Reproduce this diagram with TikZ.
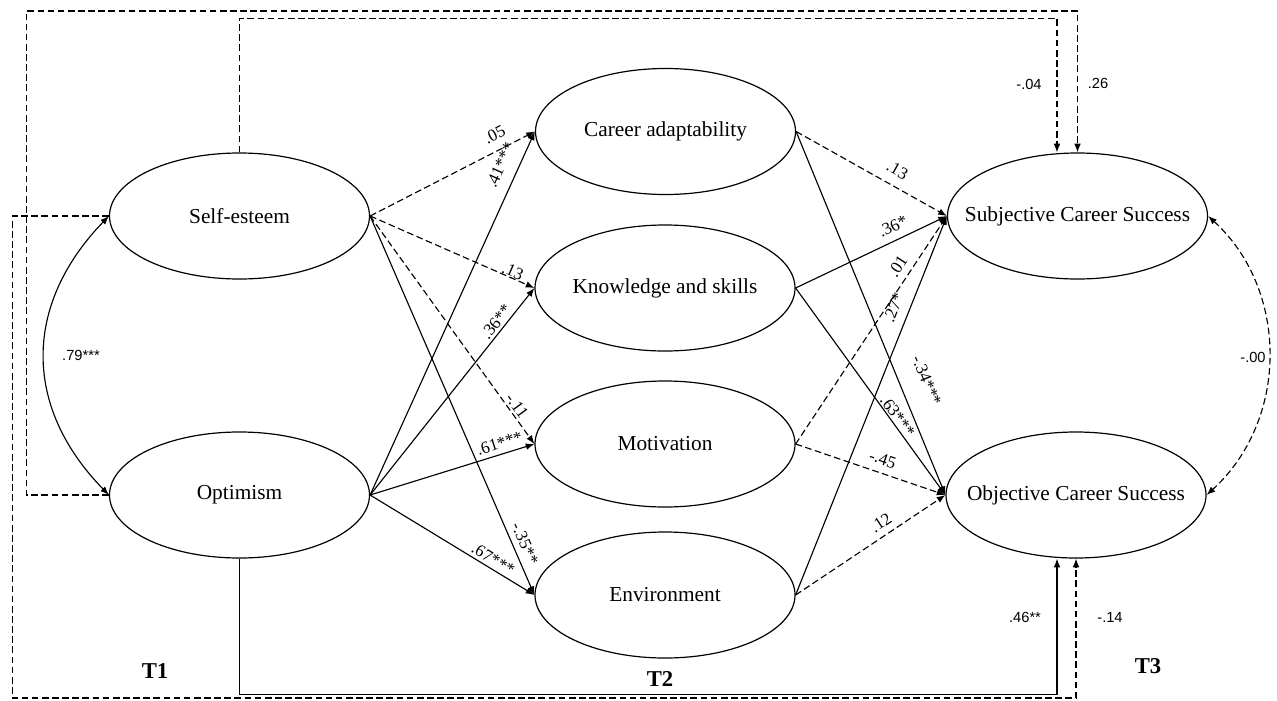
\documentclass[tikz,border=0pt]{standalone}
\usepackage{fontspec}
\setmainfont{Liberation Serif}
\newfontfamily\labsans{Liberation Sans}
\usetikzlibrary{shapes.geometric,arrows.meta}
\newcommand\ztxt[1]{\makebox[0pt]{#1}}
\begin{document}
\begin{tikzpicture}[x=0.75pt,y=-0.75pt,
  lat/.style={draw, ellipse, minimum width=195pt, minimum height=94.5pt, inner sep=0pt, line width=0.9pt, font=\fontsize{16}{19}\selectfont},
  con/.style={line width=0.85pt, -{Latex[length=6.5pt,width=5pt]}},
  both/.style={line width=0.85pt, {Latex[length=6.5pt,width=5pt]}-{Latex[length=6.5pt,width=5pt]}},
  dsh/.style={dash pattern=on 5pt off 2.6pt},
  coef/.style={font=\fontsize{12.8}{14}\selectfont, inner sep=0pt, sloped},
  sans/.style={font=\labsans\fontsize{11}{13}\selectfont, inner sep=0pt},
  tlab/.style={font=\bfseries\fontsize{17}{20}\selectfont, inner sep=0pt}]
\useasboundingbox (0,0) rectangle (1277,700);
\fill[white] (0,0) rectangle (1277,700);

% latent variables
\node[lat] (se) at (239.5,216) {\ztxt{Self-esteem}};
\node[lat] (op) at (239.5,495) {\ztxt{Optimism}};
\node[lat] (ca) at (665.5,131.5) {\ztxt{Career adaptability}};
\node[lat] (ks) at (665,288) {\ztxt{Knowledge and skills}};
\node[lat] (mo) at (665,444) {\ztxt{Motivation}};
\node[lat] (en) at (665,595) {\ztxt{Environment}};
\node[lat] (sc) at (1077.5,216) {\ztxt{Subjective Career Success}};
\node[lat] (oc) at (1076,495) {\ztxt{Objective Career Success}};

% T1 -> T2
\draw[con,dsh] (se.east) -- (ca.west) node[coef,pos=0.798,above=6.7pt]{.05};
\draw[con,dsh] (se.east) -- (ks.west) node[coef,pos=0.853,above=0.3pt]{.13};
\draw[con,dsh] (se.east) -- (mo.west) node[coef,pos=0.853,above=1.5pt]{-.11};
\draw[con] (se.east) -- (en.west) node[coef,pos=0.877,above=4.1pt]{-.35**};
\draw[con] (op.east) -- (ca.west) node[coef,pos=0.887,above=8.5pt]{.41***};
\draw[con] (op.east) -- (ks.west) node[coef,pos=0.810,above=1.9pt]{.36**};
\draw[con] (op.east) -- (mo.west) node[coef,pos=0.808,above=3.5pt]{.61***};
\draw[con] (op.east) -- (en.west) node[coef,pos=0.720,above=2.2pt]{.67***};

% T2 -> T3
\draw[con,dsh] (ca.east) -- (sc.west) node[coef,pos=0.621,above=7.1pt]{.13};
\draw[con] (ca.east) -- (oc.west) node[coef,pos=0.712,above=14.9pt]{-.34***};
\draw[con] (ks.east) -- (sc.west) node[coef,pos=0.683,above=5.7pt]{.36*};
\draw[con] (ks.east) -- (oc.west) node[coef,pos=0.641,above=0.8pt]{.63***};
\draw[con,dsh] (mo.east) -- (sc.west) node[coef,pos=0.747,above=5pt]{.01};
\draw[con,dsh] (mo.east) -- (oc.west) node[coef,pos=0.552,above=5.5pt]{-.45};
\draw[con] (en.east) -- (sc.west) node[coef,pos=0.743,above=6.8pt]{.27*};
\draw[con,dsh] (en.east) -- (oc.west) node[coef,pos=0.617,above=4.8pt]{.12};

% correlations
\draw[both] (se.west) .. controls (23,305) and (23,407) .. (op.west);
\node[sans] (l79) at (81,355) {.79***};
\draw[both,dsh] (sc.east) .. controls (1289,290) and (1289,420) .. (oc.east);
\node[sans] (l00) at (1253,357) {-.00};

% T1 -> T3 direct paths
\draw[con,dsh] (se.north) -- ++(0,-134) -| ([xshift=-15.4pt]sc.north);
\node[sans] (l04) at (1029,84) {-.04};
\draw[con,dsh] (op.west) -- ++(-82.5,0) -- ++(0,-484) -| (sc.north);
\node[sans] (l26) at (1098,83) {.26};
\draw[con,dsh] (se.west) -- ++(-96.5,0) -- ++(0,482) -| (oc.south);
\node[sans] (l14) at (1110,617) {-.14};
\draw[con] (op.south) -- ++(0,136) -| ([xshift=-14.25pt]oc.south);
\node[sans] (l46) at (1025,617) {.46**};

% time labels
\node[tlab] (t1) at (155,671) {T1};
\node[tlab] (t2) at (660,679) {T2};
\node[tlab] (t3) at (1148,666) {T3};
\end{tikzpicture}
\end{document}
